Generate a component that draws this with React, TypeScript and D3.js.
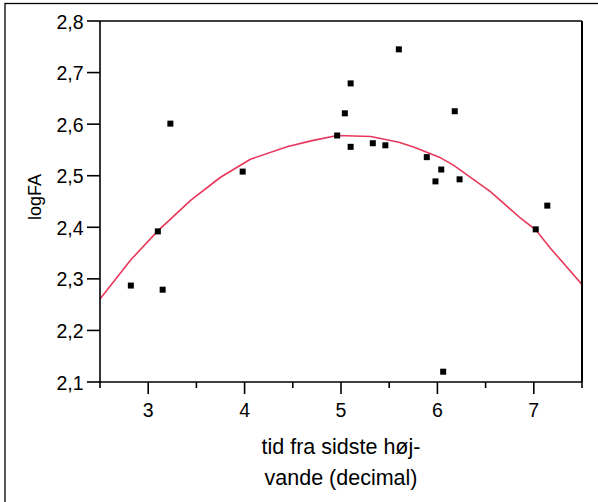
import React from "react";
import * as d3 from "d3";

const pointX = [2.82, 3.10, 3.15, 3.23, 3.98, 4.96, 5.04, 5.10, 5.10, 5.33, 5.46, 5.60, 5.89, 5.98, 6.04, 6.06, 6.18, 6.23, 7.02, 7.14];
const pointY = [2.287, 2.392, 2.279, 2.601, 2.508, 2.578, 2.621, 2.679, 2.556, 2.563, 2.559, 2.745, 2.536, 2.489, 2.512, 2.120, 2.625, 2.493, 2.396, 2.442];

const fitX = [2.5, 2.82, 3.10, 3.44, 3.75, 4.06, 4.44, 4.70, 4.96, 5.31, 5.60, 5.76, 6.02, 6.17, 6.38, 6.55, 6.86, 7.02, 7.17, 7.5];
const fitY = [2.261, 2.337, 2.393, 2.452, 2.497, 2.532, 2.556, 2.568, 2.578, 2.576, 2.565, 2.555, 2.536, 2.520, 2.492, 2.469, 2.418, 2.395, 2.360, 2.289];

const xMajorTicks = [3, 4, 5, 6, 7];
const xMinorTicks = [2.5, 3.5, 4.5, 5.5, 6.5, 7.5];
const yTicks = [2.1, 2.2, 2.3, 2.4, 2.5, 2.6, 2.7, 2.8];
const xDomain = [2.5, 7.5];
const yDomain = [2.1, 2.8];

const yTitle = "logFA";
const xTitleLines = ["tid fra sidste høj-", "vande (decimal)"];

const W = 598;
const H = 502;
const plot = { left: 100, top: 21, right: 582, bottom: 382 };
const font = "'Liberation Sans', Arial, sans-serif";

export default function App() {
  const x = d3.scaleLinear().domain(xDomain).range([plot.left, plot.right]);
  const y = d3.scaleLinear().domain(yDomain).range([plot.bottom, plot.top]);
  const fmt = (v: number) => v.toFixed(1).replace(".", ",");

  const line = d3
    .line<number>()
    .x((_, i) => x(fitX[i]))
    .y((d) => y(d));

  const sq = 6;

  return (
    <svg
      width={W}
      height={H}
      style={{ position: "absolute", left: 0, top: 0, background: "#fff" }}
      fontFamily={font}
    >
      <rect x={0} y={0} width={W} height={H} fill="#fff" />
      {/* outer frame */}
      <rect x={5} y={3.5} width={W + 20} height={H + 20} fill="none" stroke="#000" strokeWidth={1.3} />

      <defs>
        <clipPath id="plotclip">
          <rect x={plot.left} y={plot.top} width={plot.right - plot.left} height={plot.bottom - plot.top} />
        </clipPath>
      </defs>

      {/* fitted curve */}
      <path
        d={line(fitY) || ""}
        fill="none"
        stroke="#e8375c"
        strokeWidth={1.6}
        clipPath="url(#plotclip)"
      />

      {/* points */}
      {pointX.map((px, i) => (
        <rect key={i} x={x(px) - sq / 2} y={y(pointY[i]) - sq / 2} width={sq} height={sq} fill="#000" />
      ))}

      {/* plot box */}
      <line x1={plot.left} x2={plot.right} y1={plot.top} y2={plot.top} stroke="#000" strokeWidth={1.6} />
      <line x1={plot.right} x2={plot.right} y1={plot.top} y2={plot.bottom} stroke="#000" strokeWidth={2} />
      <line x1={plot.left} x2={plot.left} y1={plot.top} y2={plot.bottom + 0.8} stroke="#000" strokeWidth={1.6} />
      <line x1={plot.left} x2={plot.right} y1={plot.bottom} y2={plot.bottom} stroke="#000" strokeWidth={1.6} />

      {/* y ticks */}
      {yTicks.map((t) => (
        <g key={t}>
          <line x1={plot.left - 13} x2={plot.left} y1={y(t)} y2={y(t)} stroke="#000" strokeWidth={1.6} />
          <text x={83.5} y={y(t) + 7.5} textAnchor="end" fontSize={19.5} fill="#000">
            {fmt(t)}
          </text>
        </g>
      ))}

      {/* x ticks */}
      {xMajorTicks.map((t) => (
        <g key={t}>
          <line x1={x(t)} x2={x(t)} y1={plot.bottom} y2={plot.bottom + 12} stroke="#000" strokeWidth={1.6} />
          <text x={x(t)} y={416.5} textAnchor="middle" fontSize={19.5} fill="#000">
            {t}
          </text>
        </g>
      ))}
      {xMinorTicks.map((t) => (
        <line key={t} x1={x(t)} x2={x(t)} y1={plot.bottom} y2={plot.bottom + 6} stroke="#000" strokeWidth={1.6} />
      ))}

      {/* axis titles */}
      <text
        transform={`translate(41,197)`}
        fill="#000"
      >
        <tspan transform="rotate(-90)"></tspan>
      </text>
      <text
        transform={`translate(41,197) rotate(-90)`}
        textAnchor="middle"
        fontSize={18}
        fill="#000"
      >
        {yTitle}
      </text>
      {xTitleLines.map((s, i) => (
        <text key={i} x={(plot.left + plot.right) / 2} y={454 + i * 30.5} textAnchor="middle" fontSize={21.5} fill="#000">
          {s}
        </text>
      ))}
    </svg>
  );
}
